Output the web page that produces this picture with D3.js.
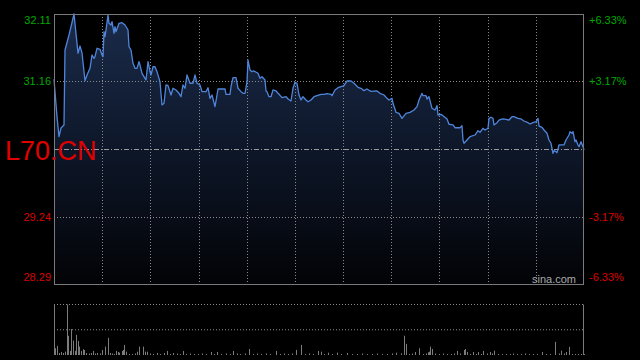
<!DOCTYPE html>
<html><head><meta charset="utf-8">
<script src="https://cdn.jsdelivr.net/npm/d3@7"></script>
<style>html,body{margin:0;padding:0;background:#000;}svg{display:block;}</style>
</head><body>
<svg id="c" width="640" height="360"></svg>
<script>
const symbol = "L70.CN";
const source = "sina.com";
const prevClose = 30.20;
const priceTicks = [32.11, 31.16, 29.24, 28.29];
const pctTicks = ["+6.33%", "+3.17%", "-3.17%", "-6.33%"];
const totalMinutes = 530;
const gridColumns = 11;

const minutes = [0,3,5,7,10,11,15,17,20,23,24,26,28,31,33,36,38,40,41,43,46,48,49,50,51,52,54,55,57,58,60,61,62,65,68,71,74,75,77,79,81,83,85,86,88,91,92,94,96,97,99,101,103,105,106,108,110,112,114,117,119,122,125,127,129,131,133,136,139,141,143,146,148,152,154,156,158,161,163,164,171,172,176,177,179,182,184,187,189,191,193,194,196,198,200,204,206,208,211,212,213,215,217,219,222,225,228,232,234,237,239,241,243,245,247,249,252,254,257,260,263,267,270,273,277,278,281,284,287,290,293,297,300,304,307,310,313,317,323,326,330,333,335,338,339,342,345,348,352,356,360,363,365,368,369,372,373,375,378,381,383,384,387,389,393,395,399,401,406,408,409,410,413,416,421,424,426,429,431,434,435,437,439,440,443,445,447,449,452,455,458,460,464,467,470,474,476,479,482,484,485,488,490,493,495,497,499,500,502,503,505,507,510,512,515,516,518,519,521,522,524,525,527,529,530];
const prices = [31.186,30.657,30.374,30.497,30.540,31.601,31.813,31.930,32.110,31.695,31.554,31.657,31.558,31.166,31.247,31.342,31.530,31.483,31.506,31.625,31.611,31.530,31.506,31.860,31.789,31.884,32.096,31.978,31.954,32.001,31.837,31.930,31.860,31.978,31.987,31.954,31.884,31.647,31.601,31.413,31.342,31.342,31.435,31.388,31.271,31.200,31.176,31.435,31.294,31.247,31.364,31.364,31.294,31.200,31.148,30.823,30.847,31.106,31.096,30.964,31.059,31.035,30.988,30.940,31.106,31.059,31.247,31.130,31.130,31.247,31.130,31.106,31.011,31.011,31.067,30.917,30.964,30.799,30.964,31.049,31.049,30.974,30.974,31.081,31.209,31.209,31.059,31.011,30.988,30.988,31.152,31.459,31.318,31.294,31.304,31.271,31.200,31.223,31.176,31.021,31.011,30.940,30.940,31.035,31.021,30.974,30.926,30.940,30.907,30.879,31.059,31.144,31.130,30.964,30.893,30.940,30.893,30.869,30.893,30.940,30.954,30.974,30.974,30.982,30.974,30.954,31.035,31.067,31.081,31.096,31.162,31.162,31.130,31.073,31.059,31.025,31.049,31.014,31.021,30.988,30.964,30.917,30.893,30.917,30.847,30.719,30.705,30.634,30.705,30.719,30.752,30.799,30.893,30.988,30.954,30.954,30.907,30.940,30.776,30.752,30.813,30.681,30.691,30.671,30.625,30.550,30.540,30.501,30.501,30.530,30.327,30.281,30.327,30.374,30.398,30.459,30.436,30.493,30.469,30.493,30.634,30.649,30.634,30.540,30.572,30.610,30.620,30.625,30.620,30.610,30.657,30.657,30.634,30.625,30.596,30.572,30.554,30.572,30.586,30.634,30.525,30.507,30.469,30.422,30.327,30.281,30.139,30.176,30.162,30.148,30.257,30.257,30.257,30.327,30.398,30.445,30.422,30.445,30.303,30.327,30.257,30.233,30.303,30.233,30.186];

const volMinutes = [1,3,5,7,9,11,13,14,16,17,19,21,22,24,25,27,29,30,32,35,37,39,41,43,46,48,51,54,56,58,60,62,64,65,68,69,70,72,75,78,81,83,85,89,91,93,96,99,103,106,110,113,116,119,123,126,129,132,136,140,144,148,152,157,160,163,167,172,176,179,183,186,191,195,199,203,207,212,216,222,226,230,234,238,242,247,251,255,259,264,267,270,274,278,283,287,293,298,303,308,313,318,323,328,333,338,342,347,350,352,355,358,361,365,369,372,374,375,376,378,381,385,389,393,397,400,403,406,410,411,413,416,419,422,424,427,429,433,436,438,440,444,448,452,456,459,463,467,471,475,479,483,488,492,496,501,505,507,510,512,515,518,521,524,527,530];
const volumes = [6.7,9,2,3,2,3.3,50,19,4,25.7,14.3,4,20,14,8.3,4,5.7,5,2,1.5,2,4,1.5,2,1.5,5,8.3,17,2,1.5,1,4,3,2.3,4,5,10,3.3,1,1,1.5,3.3,8.3,8.3,3.3,3.3,1.5,1,2,1,2,4,1,2,1.5,1,4,1,1.5,1,1,1.5,1,3,1,3,1,1.5,1,4,1.5,1,1.5,6,1,1.5,1,1.5,1,4,1,1.5,1,1.5,5,10,1,1.5,1,4,3.3,1,2.3,1,2.3,1,2,1,1,1.5,1,1,1.5,1,1,1.5,2.3,1.7,19,11,1,1.5,3,6.7,1,1.5,2.7,3.3,8.3,6,1.5,1,1.5,1,1,1.5,4,1.5,5,6,3,1,3,1,3,1,4,1.5,3,1.5,4.3,1,1,1,1,1.5,1,1,1.5,1,1,1,3,1,1,13,1.5,4.3,1.5,3,8,1,1,1,1,1];

const svg = d3.select("#c");
const W = 640, H = 360;
const L = 54, R = 584, T = 14, B = 284;
const VT = 304.5, VB = 355;

svg.append("rect").attr("width", W).attr("height", H).attr("fill", "#000");

const x = d3.scaleLinear().domain([0, totalMinutes]).range([L, R]);
const y = d3.scaleLinear().domain([priceTicks[3], priceTicks[0]]).range([B, T]);
const maxVol = d3.max(volumes);
const yv = d3.scaleLinear().domain([0, maxVol]).range([VB, VT]);

const data = minutes.map((m, i) => ({m, p: prices[i]}));

const defs = svg.append("defs");
const grad = defs.append("linearGradient").attr("id", "g").attr("gradientUnits", "userSpaceOnUse")
  .attr("x1", 0).attr("x2", 0).attr("y1", T).attr("y2", B);
grad.append("stop").attr("offset", 0).attr("stop-color", "#1a2b4a");
grad.append("stop").attr("offset", 0.5).attr("stop-color", "#0e1729");
grad.append("stop").attr("offset", 1).attr("stop-color", "#020306");

svg.append("path").datum(data)
  .attr("d", d3.area().x(d => x(d.m)).y0(B).y1(d => y(d.p)))
  .attr("fill", "url(#g)");

// grid
const g = svg.append("g");
const cols = d3.range(1, gridColumns).map(i => i * totalMinutes / gridColumns);
g.selectAll("line.v").data(cols).enter().append("line")
  .attr("x1", d => Math.round(x(d)) + 0.5).attr("x2", d => Math.round(x(d)) + 0.5)
  .attr("y1", T).attr("y2", B)
  .attr("stroke", "#8a8a8a").attr("stroke-width", 1).attr("stroke-dasharray", "1,2");
[priceTicks[1], priceTicks[2]].forEach(p => {
  const yy = Math.round(y(p)) + 0.5;
  g.append("line").attr("x1", L).attr("x2", R).attr("y1", yy).attr("y2", yy)
    .attr("stroke", "#8a8a8a").attr("stroke-dasharray", "1,2");
});
const pcY = Math.round(y(prevClose)) + 0.5;
g.append("line").attr("x1", L).attr("x2", R).attr("y1", pcY).attr("y2", pcY)
  .attr("stroke", "#9a9a9a").attr("stroke-dasharray", "5,2,1,2");

svg.append("path").datum(data)
  .attr("d", d3.line().x(d => x(d.m)).y(d => y(d.p)))
  .attr("fill", "none").attr("stroke", "#4f86dc").attr("stroke-width", 1.3)
  .attr("stroke-linejoin", "round");

// border
svg.append("rect").attr("x", L + 0.5).attr("y", T + 0.5).attr("width", R - L - 1).attr("height", B - T)
  .attr("fill", "none").attr("stroke", "#7a7a7a").attr("stroke-width", 1);

// axis labels
const font = "'Liberation Sans', Arial, sans-serif";
const labelY = [20, 81.5, 217, 277.5];
priceTicks.forEach((p, i) => {
  const col = i < 2 ? "#00a800" : "#dd0000";
  svg.append("text").attr("x", 51).attr("y", labelY[i]).attr("dy", "0.35em")
    .attr("text-anchor", "end").attr("font-family", font).attr("font-size", 11)
    .attr("fill", col).text(p.toFixed(2));
  svg.append("text").attr("x", 589).attr("y", labelY[i]).attr("dy", "0.35em")
    .attr("text-anchor", "start").attr("font-family", font).attr("font-size", 11)
    .attr("fill", col).text(pctTicks[i]);
});

// volume panel
svg.append("line").attr("x1", L).attr("x2", R).attr("y1", VT).attr("y2", VT)
  .attr("stroke", "#8a8a8a").attr("stroke-dasharray", "1,2");
svg.append("line").attr("x1", L).attr("x2", R).attr("y1", yv(maxVol / 2)).attr("y2", yv(maxVol / 2))
  .attr("stroke", "#8a8a8a").attr("stroke-dasharray", "1,2");
svg.selectAll("line.vol").data(volMinutes).enter().append("line")
  .attr("x1", (d) => Math.round(x(d)) + 0.5).attr("x2", d => Math.round(x(d)) + 0.5)
  .attr("y1", VB).attr("y2", (d, i) => yv(volumes[i]))
  .attr("stroke", "#7c7c7c").attr("stroke-width", 1);
svg.append("line").attr("x1", L + 0.5).attr("x2", L + 0.5).attr("y1", VT).attr("y2", VB)
  .attr("stroke", "#7a7a7a");
svg.append("line").attr("x1", R - 0.5).attr("x2", R - 0.5).attr("y1", VT).attr("y2", VB)
  .attr("stroke", "#7a7a7a");

// texts
svg.append("text").attr("x", 5).attr("y", 160).attr("font-family", font).attr("font-size", 27)
  .attr("fill", "#e00000").text(symbol);
svg.append("text").attr("x", 532).attr("y", 283).attr("font-family", font).attr("font-size", 11)
  .attr("fill", "#aaaaaa").text(source);
</script>
</body></html>
